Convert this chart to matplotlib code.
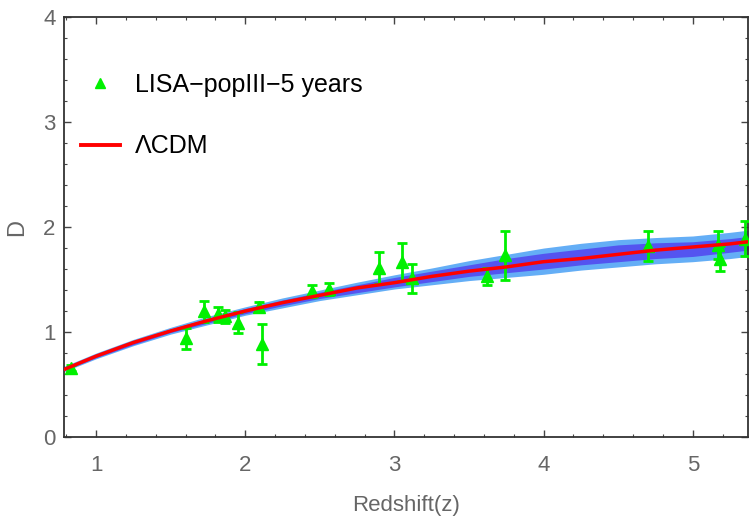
import numpy as np
import matplotlib.pyplot as plt
from matplotlib.lines import Line2D
from matplotlib.ticker import MultipleLocator

plt.rcParams['font.family'] = ['Liberation Sans', 'DejaVu Sans']

# simulated LISA popIII standard sirens
z_obs = [0.83, 1.60, 1.725, 1.82, 1.865, 1.95, 2.09, 2.11, 2.45, 2.56,
         2.90, 3.05, 3.12, 3.62, 3.74, 4.70, 5.17, 5.18, 5.35]
D_obs = [0.66, 0.94, 1.20, 1.17, 1.15, 1.09, 1.24, 0.89, 1.39, 1.41,
         1.61, 1.67, 1.51, 1.53, 1.73, 1.82, 1.83, 1.70, 1.89]
D_err = [0.03, 0.10, 0.10, 0.07, 0.06, 0.10, 0.05, 0.19, 0.06, 0.055,
         0.15, 0.18, 0.14, 0.08, 0.23, 0.145, 0.13, 0.12, 0.17]

# LCDM curve and reconstruction bands
z_grid = [0.78, 1.0, 1.25, 1.5, 1.75, 2.0, 2.25, 2.5, 2.75, 3.0,
          3.25, 3.5, 3.75, 4.0, 4.25, 4.5, 4.75, 5.0, 5.25, 5.37]
D_lcdm = [0.64, 0.77, 0.90, 1.01, 1.11, 1.20, 1.28, 1.35, 1.42, 1.47,
          1.53, 1.58, 1.62, 1.67, 1.70, 1.74, 1.78, 1.81, 1.84, 1.86]
outer_hi = [0.67, 0.80, 0.93, 1.045, 1.15, 1.24, 1.325, 1.40, 1.475, 1.545,
            1.61, 1.68, 1.74, 1.80, 1.845, 1.88, 1.90, 1.915, 1.95, 1.97]
outer_lo = [0.62, 0.745, 0.87, 0.98, 1.07, 1.16, 1.23, 1.30, 1.355, 1.41,
            1.45, 1.49, 1.52, 1.55, 1.59, 1.62, 1.65, 1.67, 1.70, 1.72]
inner_hi = [0.66, 0.79, 0.92, 1.03, 1.13, 1.225, 1.305, 1.38, 1.45, 1.52,
            1.58, 1.64, 1.70, 1.75, 1.79, 1.83, 1.85, 1.86, 1.89, 1.91]
inner_lo = [0.63, 0.755, 0.88, 0.995, 1.085, 1.175, 1.25, 1.32, 1.375, 1.43,
            1.48, 1.53, 1.565, 1.60, 1.64, 1.67, 1.70, 1.72, 1.76, 1.78]

green = '#00f000'
gray = '#666666'

fig = plt.figure(figsize=(7.5, 5.21), dpi=100)
ax = fig.add_axes([0.0853, 0.1612, 0.912, 0.806])

ax.fill_between(z_grid, outer_lo, outer_hi, color='#64aef6', lw=0, zorder=1)
ax.fill_between(z_grid, inner_lo, inner_hi, color='#5454f0', lw=0, zorder=2)
ax.errorbar(z_obs, D_obs, yerr=D_err, fmt='^', color=green, ms=8,
            elinewidth=2, capsize=3.5, capthick=2, zorder=3)
ax.plot(z_grid, D_lcdm, color='#ff0000', lw=2.5, zorder=4)

ax.set_xlim(0.785, 5.37)
ax.set_ylim(0, 4)
ax.xaxis.set_major_locator(MultipleLocator(1))
ax.xaxis.set_minor_locator(MultipleLocator(0.2))
ax.yaxis.set_major_locator(MultipleLocator(1))
ax.yaxis.set_minor_locator(MultipleLocator(0.2))
ax.tick_params(which='both', direction='in', top=True, right=True,
               color='#444444', labelcolor=gray, labelsize=16)
ax.tick_params(which='major', length=5, width=1)
ax.tick_params(which='minor', length=2.5, width=0.8)
ax.tick_params(axis='x', pad=13)
ax.tick_params(axis='y', pad=6)
for s in ax.spines.values():
    s.set_color('#333333')
    s.set_linewidth(1.3)

ax.set_xlabel('Redshift(z)', fontsize=16, color=gray)
ax.set_ylabel('D', fontsize=17, color=gray)
ax.xaxis.set_label_coords(0.5, -0.139)
ax.yaxis.set_label_coords(-0.052, 0.5)

handles = [Line2D([], [], ls='none', marker='^', color=green, ms=7.5),
           Line2D([], [], color='#ff0000', lw=2.8)]
ax.legend(handles, ['LISA\u2212popIII\u22125 years', '\u039bCDM'],
          loc='upper left', bbox_to_anchor=(-0.008, 0.921), frameon=False,
          fontsize=18, handlelength=1.55, handletextpad=0.6,
          labelspacing=1.5, borderaxespad=0.5)

fig.savefig('out.png', dpi=100)
